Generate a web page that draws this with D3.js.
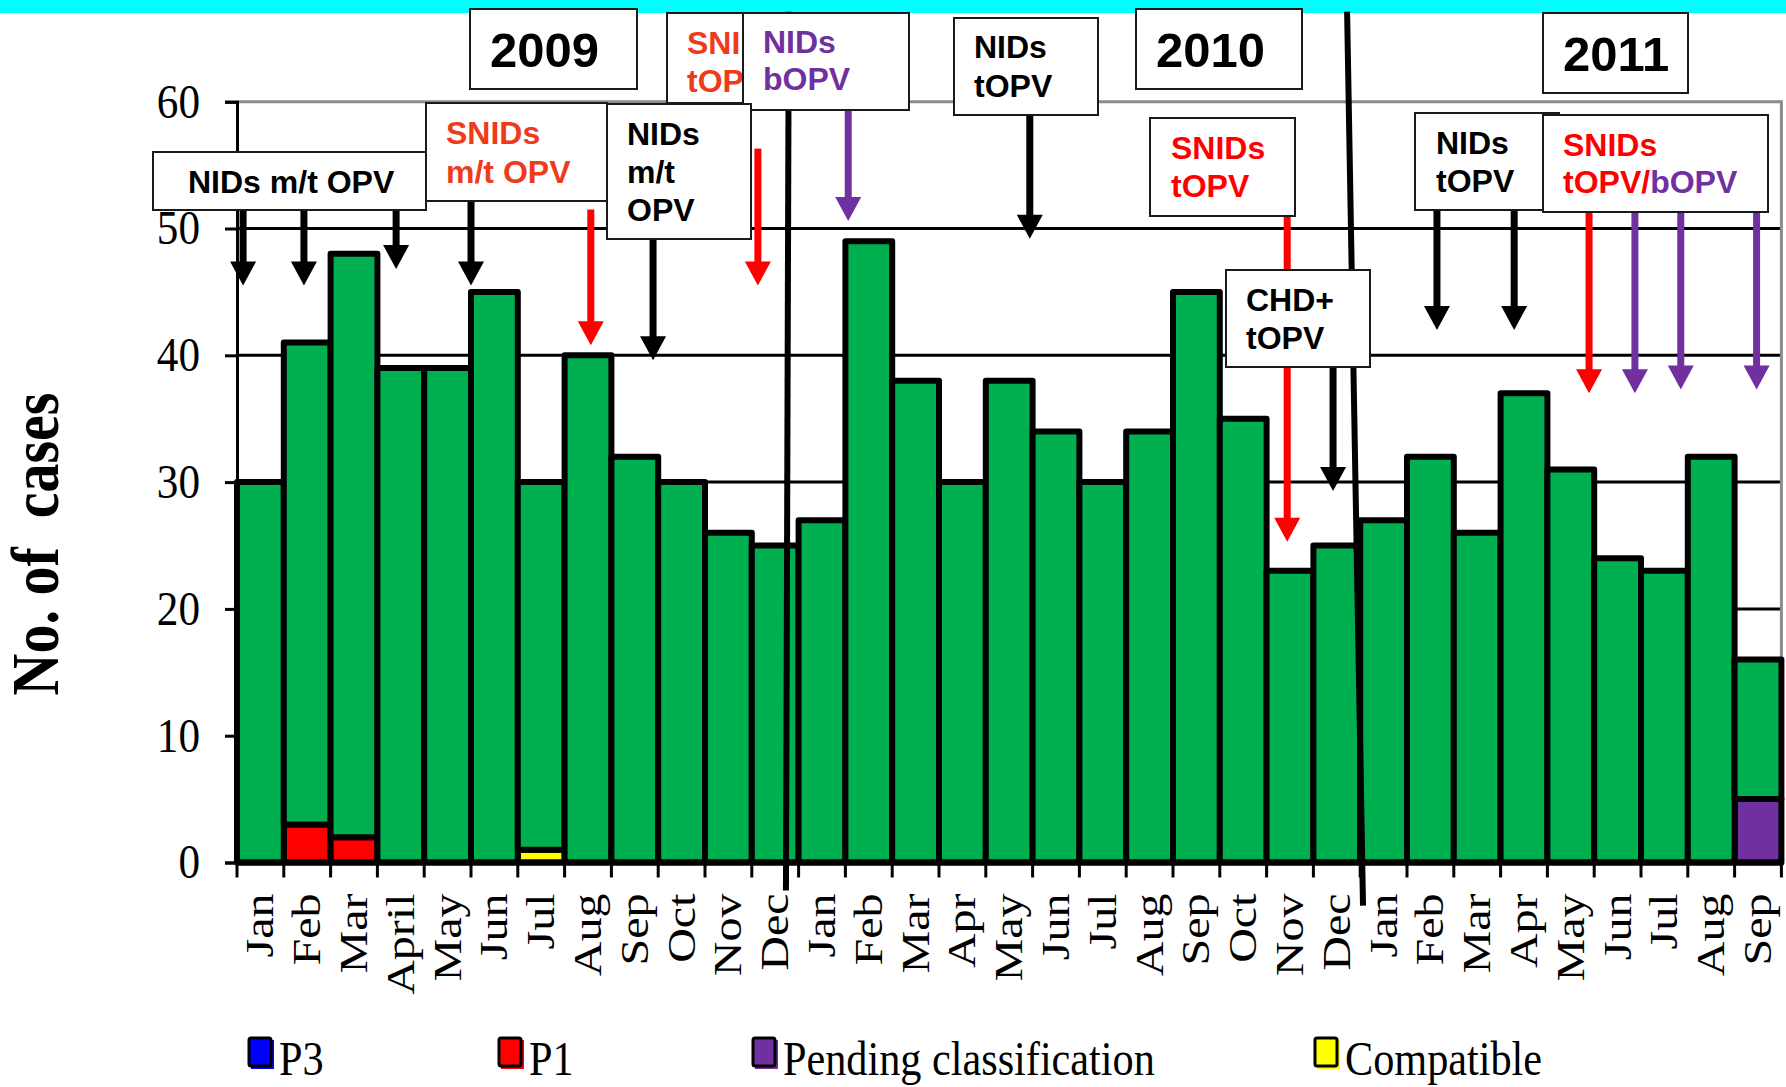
<!DOCTYPE html>
<html>
<head>
<meta charset="utf-8">
<script src="https://cdn.jsdelivr.net/npm/d3@7"></script>
<style>
  body { margin: 0; background: #fff; }
  svg { display: block; }
  .serif { font-family: "Liberation Serif", "Times New Roman", serif; }
  .sans { font-family: "Liberation Sans", Arial, sans-serif; font-weight: bold; }
</style>
</head>
<body>
<svg id="chart" width="1786" height="1087"></svg>
<script>
// month labels, Jan 2009 .. Sep 2011
var categories = ["Jan","Feb","Mar","April","May","Jun","Jul","Aug","Sep","Oct","Nov","Dec",
                  "Jan","Feb","Mar","Apr","May","Jun","Jul","Aug","Sep","Oct","Nov","Dec",
                  "Jan","Feb","Mar","Apr","May","Jun","Jul","Aug","Sep"];

// stacked series (cases per month)
var p3         = [0,0,0,0,0,0,0,0,0,0,0,0, 0,0,0,0,0,0,0,0,0,0,0,0, 0,0,0,0,0,0,0,0,0];
var p1         = [0,3,2,0,0,0,0,0,0,0,0,0, 0,0,0,0,0,0,0,0,0,0,0,0, 0,0,0,0,0,0,0,0,0];
var pending    = [0,0,0,0,0,0,0,0,0,0,0,0, 0,0,0,0,0,0,0,0,0,0,0,0, 0,0,0,0,0,0,0,0,5];
var compatible = [0,0,0,0,0,0,1,0,0,0,0,0, 0,0,0,0,0,0,0,0,0,0,0,0, 0,0,0,0,0,0,0,0,0];
var otherCases = [30,38,46,39,39,45,29,40,32,30,26,25, 27,49,38,30,38,34,30,34,45,35,23,25, 27,32,26,37,31,24,23,32,11];

var yTicks = [0,10,20,30,40,50,60];

var legendItems = [
  {name: "P3", color: "#0000FF"},
  {name: "P1", color: "#FF0000"},
  {name: "Pending classification", color: "#7030A0"},
  {name: "Compatible", color: "#FFFF00"}
];

var svg = d3.select("#chart");

var x = d3.scaleBand().domain(d3.range(categories.length)).range([237, 1781.4]).padding(0);
var y = d3.scaleLinear().domain([0, 60]).range([862.5, 101.7]);

// position along the month axis in month units
function mx(u) { return x.range()[0] + u * x.step(); }

// cyan strip at the top of the slide
svg.append("rect").attr("x", 0).attr("y", 0).attr("width", 1786).attr("height", 13).attr("fill", "#00FFFF");

// gridlines
svg.append("g").selectAll("line")
  .data(yTicks.filter(function(d){ return d > 0 && d < 60; }))
  .join("line")
  .attr("x1", 237).attr("x2", x.range()[1])
  .attr("y1", function(d){ return y(d); }).attr("y2", function(d){ return y(d); })
  .attr("stroke", "#000").attr("stroke-width", 3);

// plot border (top and right, grey)
svg.append("path")
  .attr("d", "M237," + y(60) + "H" + x.range()[1] + "V" + y(0))
  .attr("fill", "none").attr("stroke", "#8c8c8c").attr("stroke-width", 3);

// stacked bars
var rows = categories.map(function(c, i){
  return {i: i, p3: p3[i], p1: p1[i], pending: pending[i], compatible: compatible[i], other: otherCases[i]};
});
var keys = ["p3", "p1", "pending", "compatible", "other"];
var colors = {p3: "#0000FF", p1: "#FF0000", pending: "#7030A0", compatible: "#FFFF00", other: "#00B050"};
var stacked = d3.stack().keys(keys)(rows);

svg.append("g").selectAll("g")
  .data(stacked)
  .join("g")
  .attr("fill", function(d){ return colors[d.key]; })
  .selectAll("rect")
  .data(function(d){ return d.filter(function(s){ return s[1] - s[0] > 0; }); })
  .join("rect")
  .attr("x", function(d){ return x(d.data.i); })
  .attr("width", x.bandwidth())
  .attr("y", function(d){ return y(d[1]); })
  .attr("height", function(d){ return y(d[0]) - y(d[1]); })
  .attr("stroke", "#000").attr("stroke-width", 6).attr("stroke-linejoin", "round");

// y axis
var yAxis = svg.append("g").attr("class", "serif")
  .attr("transform", "translate(237,0)")
  .call(d3.axisLeft(y).tickValues(yTicks).tickSize(12).tickPadding(25));
yAxis.select(".domain").attr("stroke-width", 3);
yAxis.selectAll(".tick line").attr("stroke-width", 3);
yAxis.selectAll(".tick text")
  .attr("font-size", 48).attr("fill", "#000")
  .attr("x", null)
  .attr("transform", "translate(-37,0) scale(0.9,1)");

// x axis with month labels
var xAxis = svg.append("g").attr("class", "serif")
  .attr("transform", "translate(0," + y(0) + ")")
  .call(d3.axisBottom(x).tickSize(0).tickFormat(function(i){ return categories[i]; }));
xAxis.select(".domain").remove();
xAxis.selectAll(".tick text")
  .attr("font-size", 48).attr("fill", "#000")
  .attr("y", null).attr("dy", null)
  .attr("text-anchor", "end")
  .attr("transform", "translate(13,31) scale(0.82,1) rotate(-90)");

// baseline and boundary ticks
svg.append("line").attr("x1", 237).attr("x2", x.range()[1] + 2)
  .attr("y1", y(0)).attr("y2", y(0)).attr("stroke", "#000").attr("stroke-width", 6);
svg.append("g").selectAll("line")
  .data(d3.range(categories.length + 1))
  .join("line")
  .attr("x1", function(d){ return mx(d); }).attr("x2", function(d){ return mx(d); })
  .attr("y1", y(0)).attr("y2", y(0) + 15)
  .attr("stroke", "#000").attr("stroke-width", 3);

// y axis title
svg.append("text").attr("class", "serif")
  .attr("font-size", 58).attr("font-weight", "bold")
  .attr("text-anchor", "middle").attr("dominant-baseline", "central")
  .style("white-space", "pre")
  .attr("transform", "translate(36,544) scale(1.15,1) rotate(-90)")
  .text("No. of  cases");

// year separators (month units, case values)
var yearLines = [
  {u1: 11.79, v1: 67.1, u2: 11.73, v2: -2.2},
  {u1: 23.72, v1: 67.1, u2: 24.06, v2: -3.4}
];
svg.append("g").selectAll("line")
  .data(yearLines)
  .join("line")
  .attr("x1", function(d){ return mx(d.u1); }).attr("y1", function(d){ return y(d.v1); })
  .attr("x2", function(d){ return mx(d.u2); }).attr("y2", function(d){ return y(d.v2); })
  .attr("stroke", "#000").attr("stroke-width", 6);

// campaign arrows: month position, start value, tip value
var arrows = [
  {u: 0.13, from: 51.45, to: 45.5, c: "#000"},
  {u: 1.43, from: 51.45, to: 45.5, c: "#000"},
  {u: 3.40, from: 51.45, to: 46.8, c: "#000"},
  {u: 5.00, from: 52.2, to: 45.5, c: "#000"},
  {u: 7.56, from: 51.5, to: 40.8, c: "#FF0000"},
  {u: 8.89, from: 49.2, to: 39.6, c: "#000"},
  {u: 11.13, from: 56.3, to: 45.5, c: "#FF0000"},
  {u: 13.06, from: 59.3, to: 50.6, c: "#7030A0"},
  {u: 16.94, from: 59.0, to: 49.2, c: "#000"},
  {u: 22.44, from: 51.0, to: 25.3, c: "#FF0000"},
  {u: 23.42, from: 39.1, to: 29.3, c: "#000"},
  {u: 25.64, from: 51.45, to: 42.0, c: "#000"},
  {u: 27.29, from: 51.45, to: 42.0, c: "#000"},
  {u: 28.89, from: 51.3, to: 37.0, c: "#FF0000"},
  {u: 29.87, from: 51.3, to: 37.0, c: "#7030A0"},
  {u: 30.85, from: 51.3, to: 37.3, c: "#7030A0"},
  {u: 32.47, from: 51.3, to: 37.3, c: "#7030A0"}
];
var headLen = 24, headW = 26;
var ag = svg.append("g").selectAll("g").data(arrows).join("g");
ag.append("line")
  .attr("x1", function(d){ return mx(d.u); }).attr("x2", function(d){ return mx(d.u); })
  .attr("y1", function(d){ return y(d.from); }).attr("y2", function(d){ return y(d.to) - headLen + 2; })
  .attr("stroke", function(d){ return d.c; }).attr("stroke-width", 7);
ag.append("path")
  .attr("d", function(d){
    var px = mx(d.u), tip = y(d.to);
    return "M" + (px - headW / 2) + "," + (tip - headLen) + "L" + (px + headW / 2) + "," + (tip - headLen) + "L" + px + "," + tip + "Z";
  })
  .attr("fill", function(d){ return d.c; });

// callout boxes from the slide
var ORANGE = "#EE3B1C", RED = "#FF0000", PURPLE = "#7030A0", BLACK = "#000";
var boxes = [
  {x: 470, y: 9, w: 167, h: 80, size: 49, lines: [{tx: 490, ty: 67, parts: [["2009", BLACK]]}]},
  {x: 1136, y: 9, w: 166, h: 80, size: 49, lines: [{tx: 1156, ty: 67, parts: [["2010", BLACK]]}]},
  {x: 1543, y: 13, w: 145, h: 80, size: 49, lines: [{tx: 1563, ty: 71, parts: [["2011", BLACK]]}]},
  // partly hidden under the NIDs bOPV box, so its text is clipped to the visible part
  {x: 667, y: 13, w: 76, h: 90, size: 32, clip: true, lines: [
    {tx: 687, ty: 54, parts: [["SNIDs", ORANGE]]}, {tx: 687, ty: 92, parts: [["tOPV", ORANGE]]}]},
  {x: 743, y: 13, w: 166, h: 97, size: 32, lines: [
    {tx: 763, ty: 53, parts: [["NIDs", PURPLE]]}, {tx: 763, ty: 90, parts: [["bOPV", PURPLE]]}]},
  {x: 954, y: 18, w: 144, h: 97, size: 32, lines: [
    {tx: 974, ty: 58, parts: [["NIDs", BLACK]]}, {tx: 974, ty: 97, parts: [["tOPV", BLACK]]}]},
  {x: 1150, y: 118, w: 145, h: 98, size: 32, lines: [
    {tx: 1171, ty: 159, parts: [["SNIDs", RED]]}, {tx: 1171, ty: 197, parts: [["tOPV", RED]]}]},
  {x: 153, y: 152, w: 273, h: 58, size: 32, lines: [{tx: 188, ty: 193, parts: [["NIDs m/t OPV", BLACK]]}]},
  {x: 426, y: 103, w: 181, h: 98, size: 32, lines: [
    {tx: 446, ty: 144, parts: [["SNIDs", ORANGE]]}, {tx: 446, ty: 183, parts: [["m/t OPV", ORANGE]]}]},
  {x: 607, y: 104, w: 144, h: 135, size: 32, lines: [
    {tx: 627, ty: 145, parts: [["NIDs", BLACK]]}, {tx: 627, ty: 183, parts: [["m/t", BLACK]]},
    {tx: 627, ty: 221, parts: [["OPV", BLACK]]}]},
  {x: 1415, y: 113, w: 144, h: 97, size: 32, lines: [
    {tx: 1436, ty: 154, parts: [["NIDs", BLACK]]}, {tx: 1436, ty: 192, parts: [["tOPV", BLACK]]}]},
  {x: 1543, y: 115, w: 225, h: 97, size: 32, lines: [
    {tx: 1563, ty: 156, parts: [["SNIDs", RED]]}, {tx: 1563, ty: 193, parts: [["tOPV/", RED], ["bOPV", PURPLE]]}]},
  {x: 1226, y: 270, w: 144, h: 97, size: 32, lines: [
    {tx: 1246, ty: 311, parts: [["CHD+", BLACK]]}, {tx: 1246, ty: 349, parts: [["tOPV", BLACK]]}]}
];
var defs = svg.append("defs");
var bg = svg.append("g").selectAll("g").data(boxes).join("g");
bg.append("rect")
  .attr("x", function(d){ return d.x; }).attr("y", function(d){ return d.y; })
  .attr("width", function(d){ return d.w; }).attr("height", function(d){ return d.h; })
  .attr("fill", "#fff").attr("stroke", "#1a1a1a").attr("stroke-width", 2);
bg.each(function(b, i){
  var g = d3.select(this);
  var holder = g;
  if (b.clip) {
    defs.append("clipPath").attr("id", "clip" + i)
      .append("rect").attr("x", b.x).attr("y", b.y).attr("width", b.w).attr("height", b.h);
    holder = g.append("g").attr("clip-path", "url(#clip" + i + ")");
  }
  b.lines.forEach(function(l){
    var t = holder.append("text").attr("class", "sans")
      .attr("x", l.tx).attr("y", l.ty).attr("font-size", b.size);
    l.parts.forEach(function(p){
      t.append("tspan").attr("fill", p[1]).text(p[0]);
    });
  });
});

// legend
var legendX = [249, 499, 753, 1315];
var lg = svg.append("g").selectAll("g").data(legendItems).join("g")
  .attr("transform", function(d, i){ return "translate(" + legendX[i] + ",1038)"; });
lg.append("rect").attr("x", 2).attr("y", 2).attr("width", 23).attr("height", 29)
  .attr("fill", function(d){ return d.color; });
lg.append("rect").attr("x", 0).attr("y", 0).attr("width", 22).attr("height", 28).attr("rx", 2)
  .attr("fill", function(d){ return d.color; }).attr("stroke", "#000").attr("stroke-width", 3);
lg.append("text").attr("class", "serif")
  .attr("font-size", 48).attr("fill", "#000")
  .attr("transform", "translate(30,37) scale(0.88,1)")
  .text(function(d){ return d.name; });
</script>
</body>
</html>
